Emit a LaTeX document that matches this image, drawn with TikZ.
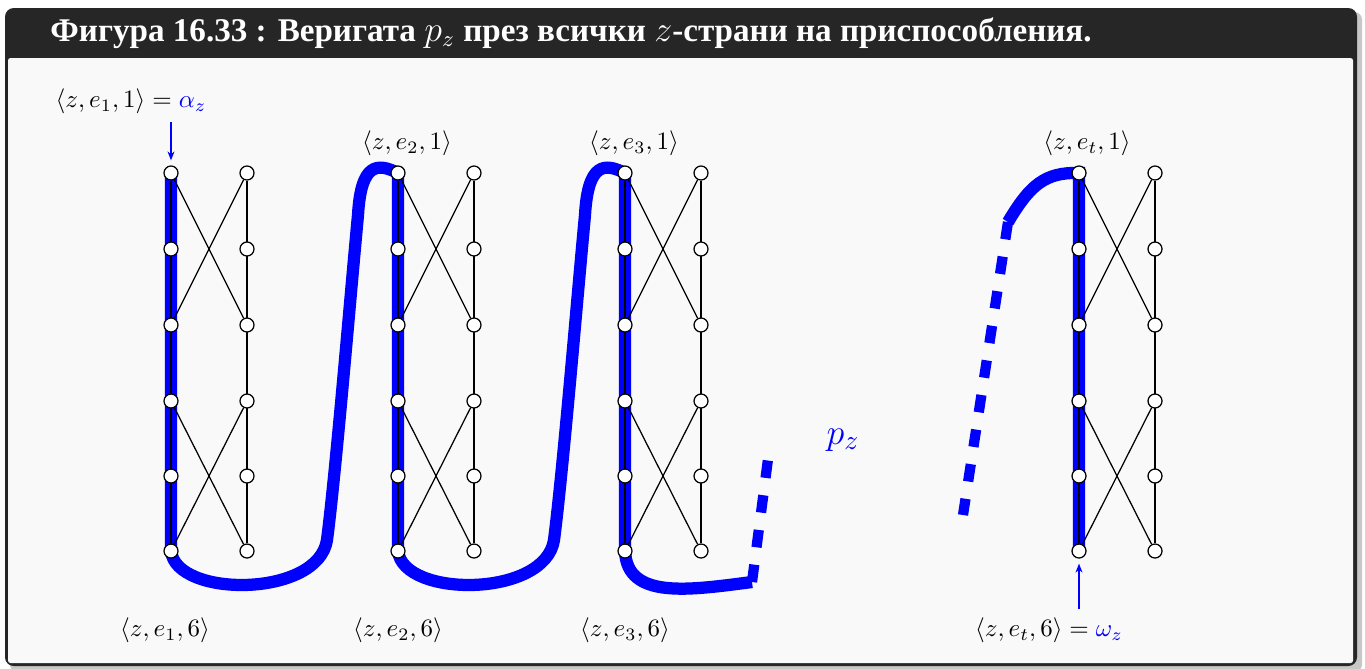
\documentclass[tikz,border=0pt]{standalone}
\usepackage[no-math]{fontspec}
\newfontfamily\titlefont{Liberation Serif}
\usetikzlibrary{arrows.meta,backgrounds}
\definecolor{framedark}{HTML}{262626}
\definecolor{bodybg}{HTML}{F9F9F9}

\begin{document}
\begin{tikzpicture}[x=0.4pt, y=-0.4pt,
  vtx/.style={circle, draw, fill=white, line width=0.5pt, inner sep=0pt, minimum size=5.6pt},
  wire/.style={line width=0.5pt},
  pathz/.style={blue, line width=4.9pt},
  pathzdash/.style={blue, line width=4.1pt, dash pattern=on 7pt off 7pt},
  tip/.style={blue, line width=0.5pt, shorten >=2pt, -{Stealth[length=3.6pt, width=2.8pt]}}]
  \useasboundingbox (0,0) rectangle (1365,668);
  \foreach \g/\x in {1/171, 2/398, 3/625, 4/1079} {
    \foreach \r/\y in {1/173, 2/249, 3/325, 4/401, 5/476, 6/551} {
      \node[vtx] (g\g l\r) at (\x,\y) {};
      \node[vtx] (g\g r\r) at (\x+76,\y) {};
    }
  }
  \coordinate (d3a) at (752,582);
  \coordinate (d3b) at (768,459);
  \coordinate (d4a) at (1008,222);
  \coordinate (d4b) at (963,515);
  \node[anchor=west, inner sep=0pt, text=white, font=\titlefont\bfseries\fontsize{13.25}{16}\selectfont] (title) at (50,33)
    {Фигура 16.33 : Веригата $p_z$ през всички $z$-страни на приспособления.};
  \node (a1) at (131,101) {$\langle z, e_1, 1\rangle = {\color{blue}\alpha_z}$};
  \node (t2) at (407,143) {$\langle z, e_2, 1\rangle$};
  \node (t3) at (634,143) {$\langle z, e_3, 1\rangle$};
  \node (t4) at (1087,143) {$\langle z, e_t, 1\rangle$};
  \node (b1) at (165,630) {$\langle z, e_1, 6\rangle$};
  \node (b2) at (398,630) {$\langle z, e_2, 6\rangle$};
  \node (b3) at (625,630) {$\langle z, e_3, 6\rangle$};
  \node (w4) at (1049,630) {$\langle z, e_t, 6\rangle = {\color{blue}\omega_z}$};
  \node[text=blue, font=\fontsize{15}{18}\selectfont] (pz) at (843,440) {$p_z$};
  \draw[tip] (a1.south -| g1l1) -- (g1l1.north);
  \draw[tip] (w4.north -| g4l6) -- (g4l6.south);
  \begin{scope}[on background layer]
    \fill[black!22, rounded corners=3pt] (10,12) rectangle (1362,672);
    \fill[framedark, rounded corners=3.5pt] (5,8) rectangle (1357,666);
    \fill[bodybg, rounded corners=1pt] (8,58) rectangle (1353,663);
    \draw[pathz] (g1l1.center) -- (g1l6.center)
      .. controls (176,598) and (318,598) .. (327,540)
      .. controls (336,470) and (350,300) .. (358,215)
      .. controls (361,162) and (378,163) .. (g2l1.center) -- (g2l6.center)
      .. controls (403,598) and (545,598) .. (554,540)
      .. controls (563,470) and (577,300) .. (585,215)
      .. controls (588,162) and (605,163) .. (g3l1.center) -- (g3l6.center)
      .. controls (627,600) and (690,590) .. (d3a);
    \draw[pathzdash] (d3a) -- (d3b);
    \draw[pathz] (g4l6.center) -- (g4l1.center)
      .. controls (1045,172) and (1030,185) .. (d4a);
    \draw[pathzdash] (d4a) -- (d4b);
    \foreach \g in {1,...,4} {
      \draw[wire] (g\g l1) -- (g\g l6);
      \draw[wire] (g\g r1) -- (g\g r6);
      \draw[wire] (g\g l1) -- (g\g r3);
      \draw[wire] (g\g r1) -- (g\g l3);
      \draw[wire] (g\g l4) -- (g\g r6);
      \draw[wire] (g\g r4) -- (g\g l6);
    }
  \end{scope}
\end{tikzpicture}
\end{document}
